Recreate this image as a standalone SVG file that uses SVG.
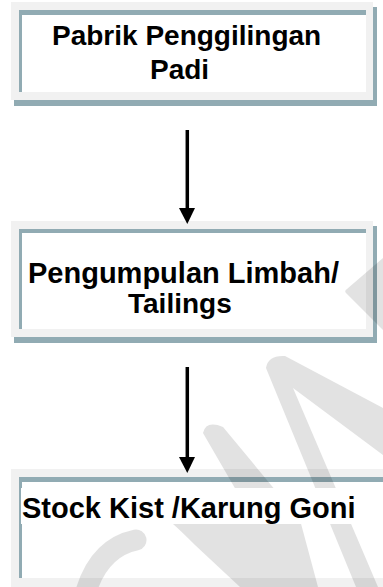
<svg xmlns="http://www.w3.org/2000/svg" width="383" height="587" viewBox="0 0 383 587">
  <defs>
    <style>
      .frame { fill: #f1f1f1; }
      .teal { fill: #91abb3; }
      .inner { fill: #ffffff; }
      .lbl { font-family: "Liberation Sans", Arial, sans-serif; font-weight: bold; fill: #000; }
      .conn { stroke: #000; stroke-width: 3.5; fill: none; }
      .head { fill: #000; }
    </style>
  </defs>
  <rect width="383" height="587" fill="#ffffff"/>

  <g id="node1">
    <rect class="teal" x="14" y="7" width="363" height="99"/>
    <rect class="frame" x="11" y="2" width="362" height="98"/>
    <rect class="teal" x="19" y="10" width="347" height="82"/>
    <rect class="inner" x="22" y="15" width="344" height="77"/>
    <text class="lbl" font-size="28" x="52" y="45">Pabrik Penggilingan</text>
    <text class="lbl" font-size="28" x="150" y="79">Padi</text>
  </g>

  <g id="node2">
    <rect class="teal" x="14" y="226" width="363" height="117"/>
    <rect class="frame" x="11" y="221" width="362" height="116"/>
    <rect class="teal" x="19" y="229" width="347" height="100"/>
    <rect class="inner" x="22" y="233" width="344" height="96"/>
    <text class="lbl" font-size="29" x="28" y="283">Pengumpulan Limbah/</text>
    <text class="lbl" font-size="28" x="128" y="313">Tailings</text>
  </g>

  <g id="node3">
    <rect class="frame" x="11" y="469" width="380" height="120"/>
    <rect class="teal" x="19" y="477" width="372" height="101"/>
    <rect class="inner" x="22" y="482" width="369" height="96"/>
  </g>

  <g id="connectors">
    <path class="conn" d="M187.3 130 L187.3 208"/>
    <path class="head" d="M179 208 L195 208 L187.3 224 Z"/>
    <path class="conn" d="M187.3 367 L187.3 457"/>
    <path class="head" d="M179 457 L195 457 L187.3 473 Z"/>
  </g>

  <g id="watermark" opacity="0.11" fill="#000">
    <path d="M346 293 Q344 291 347 289 L383 258 L383 330 Z"/>
    <path d="M266 368 Q268 355 285 356 L383 408 L383 455 L293 388 L378 587 L356 587 Z"/>
    <path d="M203 433 Q206 420 223 427 L300 520 L318 587 L240 587 L195 545 Q180 530 173 524 L173 516 Q200 505 236 490 Z"/>
    <path d="M136 540 Q98 548 85 595" stroke="#000" stroke-width="21" stroke-linecap="round" fill="none"/>
  </g>

  <g id="node3-label">
    <rect x="21" y="488" width="336" height="36" fill="#ffffff"/>
    <text class="lbl" font-size="29" x="22" y="518">Stock Kist /Karung Goni</text>
  </g>
</svg>
